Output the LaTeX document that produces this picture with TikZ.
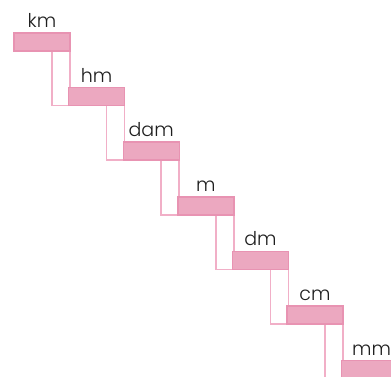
\documentclass[tikz,border=0pt]{standalone}
\usepackage{fontspec}
\setmainfont{Poppins}[UprightFont=* Light]
\definecolor{barfill}{HTML}{ECA8C0}
\definecolor{barline}{HTML}{E893B2}
\definecolor{riserline}{HTML}{F1AFC7}
\definecolor{txt}{HTML}{1E1E1E}
\begin{document}
\begin{tikzpicture}[x=1pt,y=-1pt,
  bar/.style={draw=barline, fill=barfill, line width=1.4pt, minimum width=56pt, minimum height=18pt, inner sep=0pt, outer sep=0pt, anchor=north west},
  riser/.style={draw=riserline, fill=white, line width=1.5pt},
  lab/.style={anchor=base, text=txt, font=\fontsize{19}{19}\selectfont, inner sep=0pt}]
\useasboundingbox (0,0) rectangle (391,377);
\clip (0,0) rectangle (391,377);
% bar positions
\coordinate (p1) at (14,33);
\coordinate (p2) at (68.6,87.6);
\coordinate (p3) at (123.2,142.2);
\coordinate (p4) at (177.8,196.8);
\coordinate (p5) at (232.4,251.4);
\coordinate (p6) at (287,306);
\coordinate (p7) at (341.6,360.6);
\coordinate (bot) at (0,400);
% invisible bar frames for naming
\path (p1) node[bar,draw=none,fill=none] (km) {};
\path (p2) node[bar,draw=none,fill=none] (hm) {};
\path (p3) node[bar,draw=none,fill=none] (dam) {};
\path (p4) node[bar,draw=none,fill=none] (m) {};
\path (p5) node[bar,draw=none,fill=none] (dm) {};
\path (p6) node[bar,draw=none,fill=none] (cm) {};
\path (p7) node[bar,draw=none,fill=none] (mm) {};
% risers (drawn first)
\draw[riser] ([xshift=-18pt]km.south east) rectangle (km.south east |- hm.south);
\draw[riser] ([xshift=-18pt]hm.south east) rectangle (hm.south east |- dam.south);
\draw[riser] ([xshift=-18pt]dam.south east) rectangle (dam.south east |- m.south);
\draw[riser] ([xshift=-18pt]m.south east) rectangle (m.south east |- dm.south);
\draw[riser] ([xshift=-18pt]dm.south east) rectangle (dm.south east |- cm.south);
\draw[riser] ([xshift=-18pt]cm.south east) rectangle (cm.south east |- bot);
% bars
\node[bar] at (p1) {};
\node[bar] at (p2) {};
\node[bar] at (p3) {};
\node[bar] at (p4) {};
\node[bar] at (p5) {};
\node[bar] at (p6) {};
\node[bar] at (p7) {};
% labels
\node[lab] (tkm) at ([yshift=5.5pt]km.north) {km};
\node[lab] (thm) at ([yshift=5.5pt]hm.north) {hm};
\node[lab] (tdam) at ([yshift=5.5pt]dam.north) {dam};
\node[lab] (tm) at ([yshift=5.5pt]m.north) {m};
\node[lab] (tdm) at ([yshift=5.5pt]dm.north) {dm};
\node[lab] (tcm) at ([yshift=5.5pt]cm.north) {cm};
\node[lab] (tmm) at ([xshift=2pt,yshift=5.5pt]mm.north) {mm};
\end{tikzpicture}
\end{document}
